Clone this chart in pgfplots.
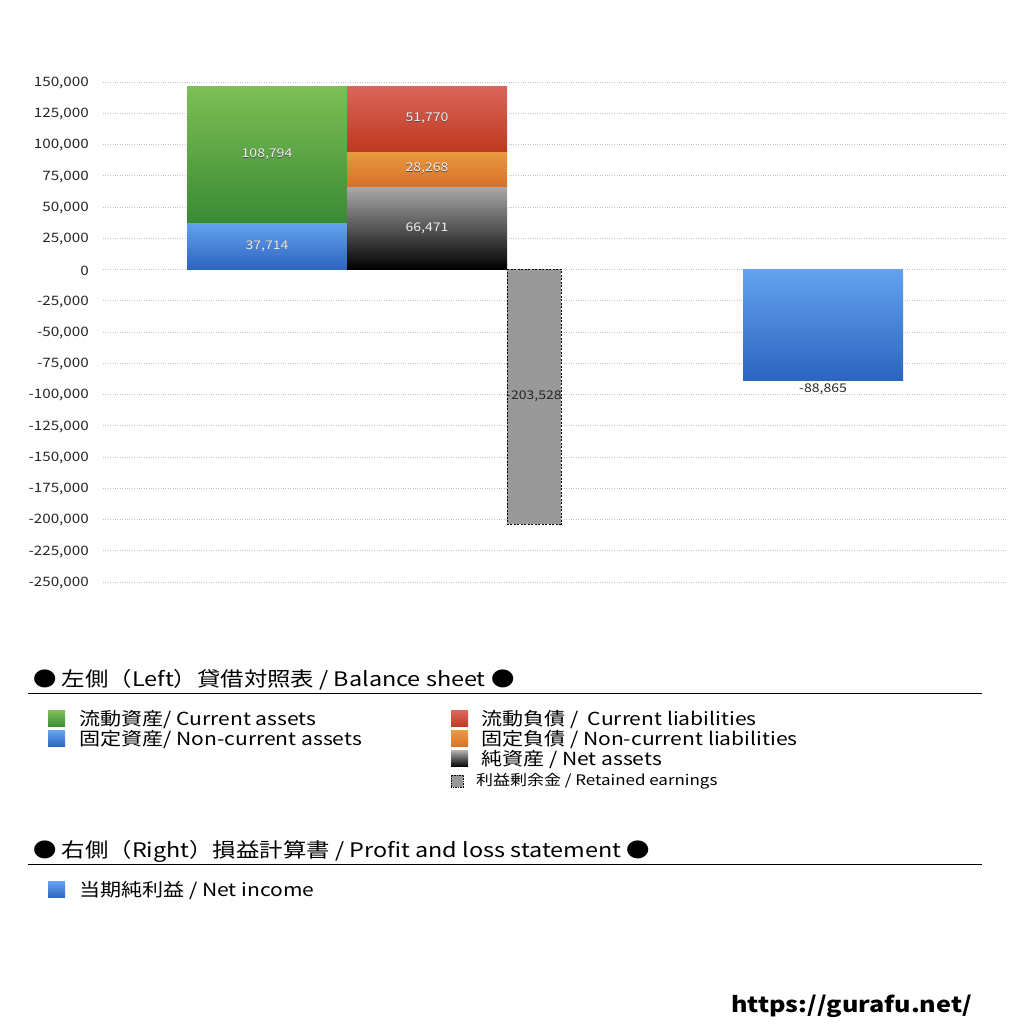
\documentclass[border=0pt]{standalone}
\usepackage{pgfplots}
\pgfplotsset{compat=1.18}
\usepackage{fontspec}
\setmainfont{Noto Sans CJK JP}[FakeStretch=1.17]
\definecolor{gTop}{RGB}{126,191,86}
\definecolor{gBot}{RGB}{58,138,52}
\definecolor{bTop}{RGB}{100,162,238}
\definecolor{bBot}{RGB}{44,100,192}
\definecolor{rTop}{RGB}{218,102,90}
\definecolor{rBot}{RGB}{190,56,32}
\definecolor{oTop}{RGB}{233,154,64}
\definecolor{oBot}{RGB}{216,112,42}
\definecolor{kTop}{RGB}{170,170,170}
\definecolor{kBot}{RGB}{0,0,0}
\definecolor{retained}{RGB}{153,153,153}
\definecolor{gridc}{RGB}{195,195,195}
\newcommand{\vlab}[3]{%
  \node[text=black!70, font=\fontsize{12}{14}\selectfont] at (axis cs:#1,#2) [yshift=-0.8pt] {#3};
  \node[text=white!94!black, font=\fontsize{12}{14}\selectfont] at (axis cs:#1,#2) {#3};}
\begin{document}
\begin{tikzpicture}
\path[use as bounding box] (0pt,0pt) rectangle (1024pt,1024pt);
\begin{axis}[
  at={(103pt,442pt)}, anchor=south west,
  scale only axis, width=904pt, height=500pt,
  xmin=103, xmax=1007, ymin=-250000, ymax=150000,
  axis line style={draw=none},
  xtick=\empty,
  ytick={150000,125000,100000,75000,50000,25000,0,-25000,-50000,-75000,-100000,-125000,-150000,-175000,-200000,-225000,-250000},
  yticklabels={{150,000},{125,000},{100,000},{75,000},{50,000},{25,000},{0},{-25,000},{-50,000},{-75,000},{-100,000},{-125,000},{-150,000},{-175,000},{-200,000},{-225,000},{-250,000}},
  ymajorgrids, major grid style={gridc, dotted, line width=0.8pt},
  major tick length=0pt,
  yticklabel style={font=\fontsize{13}{15}\selectfont, text=black!85, anchor=east, inner sep=0pt, xshift=-14pt, yshift=-1pt},
  scaled y ticks=false,
  clip=false,
]
% left column: assets
\addplot[draw=none, mark=none, top color=bTop, bottom color=bBot] coordinates {(187,0) (347,0) (347,37714) (187,37714)} -- cycle;
\addplot[draw=none, mark=none, top color=gTop, bottom color=gBot] coordinates {(187,37714) (347,37714) (347,146508) (187,146508)} -- cycle;
% right column: liabilities and net assets
\addplot[draw=none, mark=none, top color=kTop, bottom color=kBot] coordinates {(347,0) (507,0) (507,66471) (347,66471)} -- cycle;
\addplot[draw=none, mark=none, top color=oTop, bottom color=oBot] coordinates {(347,66471) (507,66471) (507,94739) (347,94739)} -- cycle;
\addplot[draw=none, mark=none, top color=rTop, bottom color=rBot] coordinates {(347,94739) (507,94739) (507,146509) (347,146509)} -- cycle;
% retained earnings
\addplot[fill=retained, draw=black, mark=none, line width=0.8pt, dash pattern=on 2pt off 1.5pt] coordinates {(507,0) (561,0) (561,-203528) (507,-203528)} -- cycle;
% net income
\addplot[draw=none, mark=none, top color=bTop, bottom color=bBot] coordinates {(743,0) (903,0) (903,-88865) (743,-88865)} -- cycle;
\vlab{267}{92111}{108,794}
\vlab{267}{18857}{37,714}
\vlab{427}{120624}{51,770}
\vlab{427}{80605}{28,268}
\vlab{427}{33235}{66,471}
\node[text=black!85, font=\fontsize{12}{14}\selectfont] at (axis cs:534,-101764) {-203,528};
\node[text=black!85, font=\fontsize{12}{14}\selectfont] at (axis cs:823,-95600) {-88,865};
\end{axis}
\begin{scope}[x=1pt,y=1pt]
% legend block 1
\node[anchor=base west, inner sep=0, font=\fontsize{20}{24}\selectfont] at (33,337) {● 左側（Left）貸借対照表 / Balance sheet ●};
\draw[line width=1pt] (28,330) -- (982,330);
\begin{scope}[font=\fontsize{18}{20}\selectfont]
\shade[top color=gTop, bottom color=gBot] (48,297) rectangle (65,313);
\node[anchor=base west, inner sep=0] at (79,298) {流動資産/ Current assets};
\shade[top color=bTop, bottom color=bBot] (48,277) rectangle (65,293);
\node[anchor=base west, inner sep=0] at (79,278) {固定資産/ Non-current assets};
\shade[top color=rTop, bottom color=rBot] (451,297) rectangle (468,313);
\node[anchor=base west, inner sep=0] at (481,298) {流動負債 /\ \ Current liabilities};
\shade[top color=oTop, bottom color=oBot] (451,277) rectangle (468,293);
\node[anchor=base west, inner sep=0] at (481,278) {固定負債 / Non-current liabilities};
\shade[top color=kTop, bottom color=kBot] (451,257) rectangle (468,273);
\node[anchor=base west, inner sep=0] at (481,258) {純資産 / Net assets};
\end{scope}
\filldraw[fill=retained, draw=black, line width=0.7pt, dash pattern=on 1.5pt off 1pt] (451,237) rectangle (463,249);
\node[anchor=base west, inner sep=0, font=\fontsize{14.5}{16}\selectfont] at (476,238) {利益剰余金 / Retained earnings};
% legend block 2
\node[anchor=base west, inner sep=0, font=\fontsize{20}{24}\selectfont] at (33,166) {● 右側（Right）損益計算書 / Profit and loss statement ●};
\draw[line width=1pt] (28,159) -- (982,159);
\shade[top color=bTop, bottom color=bBot] (48,126) rectangle (65,142);
\node[anchor=base west, inner sep=0, font=\fontsize{18}{20}\selectfont] at (79,127) {当期純利益 / Net income};
% url
\node[anchor=base east, inner sep=0, font=\fontsize{21.5}{24}\selectfont\bfseries] at (972,12) {https://gurafu.net/};
\end{scope}
\end{tikzpicture}
\end{document}
